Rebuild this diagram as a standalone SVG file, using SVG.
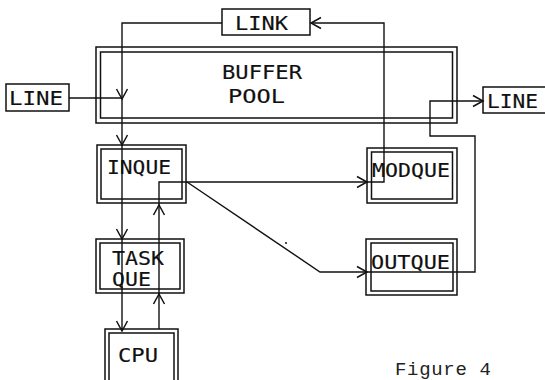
<svg xmlns="http://www.w3.org/2000/svg" width="545" height="380" viewBox="0 0 545 380">
<style>
.bx{fill:none;stroke:#111;stroke-width:1.5}
.c{fill:none;stroke:#111;stroke-width:1.4}
.t{font-family:"DejaVu Sans Mono","Liberation Mono",monospace;font-size:19px;fill:#111;stroke:#111;stroke-width:0.15}
.cap{font-family:"Liberation Mono","Courier New",monospace;font-size:19px;fill:#222}
</style>
<defs>
<marker id="ah" markerUnits="userSpaceOnUse" markerWidth="14" markerHeight="14" refX="10" refY="5.5" orient="auto" overflow="visible">
<path d="M0,0 L10,5.5 L0,11" fill="none" stroke="#111" stroke-width="1.5"/>
</marker>
</defs>
<rect width="545" height="380" fill="#fff"/>
<g id="buffer-pool">
<rect class="bx" x="96" y="47" width="361" height="76"/>
<rect class="bx" x="100.5" y="52" width="352" height="66"/>
<text class="t" x="222" y="79" textLength="80" lengthAdjust="spacingAndGlyphs">BUFFER</text>
<text class="t" x="228" y="103" textLength="57" lengthAdjust="spacingAndGlyphs">POOL</text>
</g>
<g id="link">
<rect class="bx" x="222" y="9" width="88" height="26"/>
<text class="t" x="235" y="30" textLength="53" lengthAdjust="spacingAndGlyphs">LINK</text>
</g>
<g id="line-in">
<rect class="bx" x="6" y="84" width="63" height="27"/>
<text class="t" x="9" y="105" textLength="54" lengthAdjust="spacingAndGlyphs">LINE</text>
</g>
<g id="line-out">
<rect class="bx" x="483" y="87" width="66" height="26"/>
<text class="t" x="487" y="108" textLength="51" lengthAdjust="spacingAndGlyphs">LINE</text>
</g>
<g id="inque">
<rect class="bx" x="97" y="145" width="89" height="58"/>
<rect class="bx" x="101" y="149" width="81" height="50"/>
<text class="t" x="107" y="174" textLength="64" lengthAdjust="spacingAndGlyphs">INQUE</text>
</g>
<g id="taskque">
<rect class="bx" x="96" y="239" width="88" height="54"/>
<rect class="bx" x="100" y="243" width="80" height="46"/>
<text class="t" x="112" y="265" textLength="52" lengthAdjust="spacingAndGlyphs">TASK</text>
<text class="t" x="112" y="286" textLength="39" lengthAdjust="spacingAndGlyphs">QUE</text>
</g>
<g id="cpu">
<rect class="bx" x="105" y="329" width="73" height="60"/>
<rect class="bx" x="109" y="333" width="65" height="52"/>
<text class="t" x="118" y="362" textLength="40" lengthAdjust="spacingAndGlyphs">CPU</text>
</g>
<g id="modque">
<rect class="bx" x="367" y="148" width="90" height="55"/>
<rect class="bx" x="371.5" y="152" width="81" height="47"/>
<text class="t" x="372" y="177" textLength="78" lengthAdjust="spacingAndGlyphs">MODQUE</text>
</g>
<g id="outque">
<rect class="bx" x="366" y="239" width="91" height="56"/>
<rect class="bx" x="371" y="243" width="82" height="48"/>
<text class="t" x="371" y="269" textLength="79" lengthAdjust="spacingAndGlyphs">OUTQUE</text>
</g>
<g id="connectors">
<path class="c" d="M69,98 H122"/>
<path class="c" d="M222,23 H122 V99" marker-end="url(#ah)"/>
<path class="c" d="M122,99 V145" marker-end="url(#ah)"/>
<path class="c" d="M122,145 V239" marker-end="url(#ah)"/>
<path class="c" d="M122,239 V331" marker-end="url(#ah)"/>
<path class="c" d="M159,329 V294" marker-end="url(#ah)"/>
<path class="c" d="M159,294 V205" marker-end="url(#ah)"/>
<path class="c" d="M159,205 V182 H367" marker-end="url(#ah)"/>
<path class="c" d="M187,182 L320,272 H367" marker-end="url(#ah)"/>
<path class="c" d="M367,272 H475 V136 H430 V101 H483" marker-end="url(#ah)"/>
<path class="c" d="M367,182 H384 V23 H311" marker-end="url(#ah)"/>
<circle cx="286" cy="243" r="1" fill="#111"/>
</g>
<text class="cap" x="395" y="375" textLength="96" lengthAdjust="spacing">Figure 4</text>
</svg>
